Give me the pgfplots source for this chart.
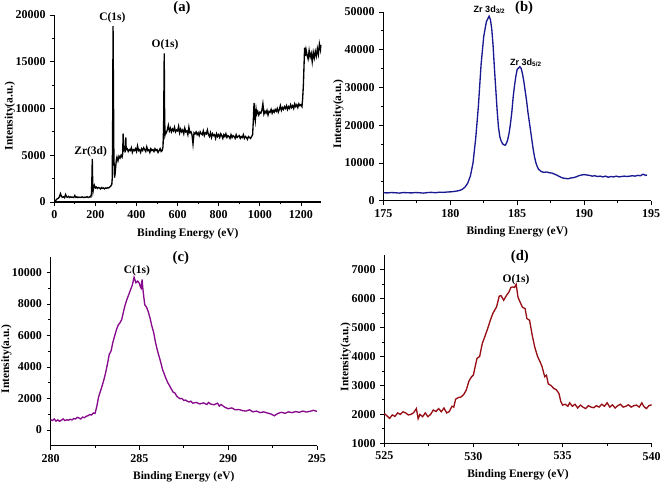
\documentclass[border=0pt]{standalone}
\usepackage{fontspec}
\setmainfont{Liberation Serif}
\newfontfamily\sansfont{Liberation Sans}
\usepackage{pgfplots}
\pgfplotsset{compat=1.18}
\definecolor{cnavy}{RGB}{25,25,145}
\definecolor{cpurple}{RGB}{135,10,140}
\definecolor{cdred}{RGB}{150,15,20}
\tikzset{
  ttl/.style={font=\bfseries\fontsize{11}{12}\selectfont},
  ann/.style={font=\bfseries\fontsize{8.6}{10}\selectfont, inner sep=1pt},
  zann/.style={font=\sansfont\bfseries\fontsize{6.8}{8}\selectfont, inner sep=1pt},
}
\pgfplotsset{
  panel/.style={
    scale only axis, anchor=south west,
    axis x line*=bottom, axis y line*=left,
    axis line style={-, line width=0.8pt},
    tick align=outside, minor tick num=1,
    major tick length=3pt, minor tick length=1.8pt,
    tick style={black, line width=0.6pt},
    scaled ticks=false,
    /pgf/number format/assume math mode=true,
    /pgf/number format/1000 sep={},
    xticklabel={\textbf{\pgfmathprintnumber{\tick}}},
    yticklabel={\textbf{\pgfmathprintnumber{\tick}}},
    tick label style={font=\bfseries\fontsize{9}{10}\selectfont},
    label style={font=\bfseries\fontsize{8.6}{10}\selectfont},
    xlabel style={at={(axis description cs:0.5,0)}, anchor=center, yshift=-23.5pt},
    ylabel style={at={(axis description cs:0,0.46)}, anchor=center},
    xlabel={Binding Energy (eV)},
    ylabel={Intensity(a.u.)},
    clip=false,
  },
}
\begin{document}
\begin{tikzpicture}
\useasboundingbox (0,0) rectangle (495.75pt,363pt);
% (a)
\begin{axis}[panel, at={(40.7pt,211.5pt)}, width=200.4pt, height=140.25pt,
  xmin=0, xmax=1300, ymin=0, ymax=20000,
  xtick={0,200,...,1200}, ytick={0,5000,...,20000},
  ylabel style={yshift=33.2pt}]
\addplot[black, line width=1pt] coordinates {
(0,0)(5,100)(10,250)(15,350)(20,400)(25,550)(30,900)(35,600)(40,500)(45,550)
(50,450)(55,800)(60,550)(65,500)(70,600)(75,480)(80,550)(85,500)(90,520)(95,480)
(100,700)(105,500)(110,550)(115,470)(120,520)(125,500)(130,480)(135,550)(140,500)(145,470)
(150,530)(155,500)(160,560)(165,480)(170,520)(175,600)(178,550)(181,900)(183,2500)(185,4600)(187,2000)
(189,1200)(192,1600)(195,1800)(200,1500)(205,1600)(210,1450)(215,1550)(220,1500)(225,1400)(230,1550)
(235,1450)(240,1500)(245,1400)(250,1500)(255,1450)(260,1550)(265,1500)(270,1600)(275,1700)(280,1900)(282,2500)
(284,8000)(286,18800)(288,12000)(290,5000)(293,2600)(296,3000)(299,3800)(302,4500)(305,4800)(310,4400)
(315,4900)(320,4700)(325,5000)(330,4800)(333,5200)(335,7300)(338,5600)(342,5800)(345,5300)(348,6900)
(350,5600)(355,5700)(360,5400)(365,5600)(370,5500)(375,5800)(380,5300)(385,5600)(390,5500)(395,5700)
(400,5400)(405,6000)(410,5500)(415,5600)(420,5300)(425,5700)(430,5500)(435,5800)(440,5600)(445,5400)
(450,5900)(455,5500)(460,5600)(465,5300)(470,5700)(475,5500)(480,5600)(485,5400)(490,5700)(495,5500)
(500,5600)(505,5300)(510,5500)(515,5700)(520,5400)(525,5500)(529,5900)(532,8000)(535,15900)(537,9000)
(539,7200)(542,7500)(545,7400)(550,7700)(555,8200)(560,7600)(565,7900)(570,7500)(575,7800)(580,7600)
(585,8000)(590,7500)(595,7700)(600,7600)(605,8100)(610,7400)(615,7800)(620,7500)(625,7700)(630,7300)
(635,7900)(640,7500)(645,7600)(650,7200)(655,8000)(660,7400)(665,7500)(670,7200)(675,6200)(680,7400)
(685,7300)(690,7500)(695,7200)(700,7400)(705,7100)(710,7500)(715,7300)(720,7200)(725,7600)(730,7100)
(735,7400)(740,7300)(745,7700)(750,7200)(755,7000)(760,7400)(765,6900)(770,7300)(775,7100)(780,7200)
(785,6800)(790,7300)(795,7000)(800,7200)(805,6900)(810,7300)(815,7100)(820,6800)(825,7200)(830,7000)
(835,7300)(840,6900)(845,7100)(850,7000)(855,6800)(860,7200)(865,6900)(870,7100)(875,7000)(880,6800)
(885,7200)(890,6900)(895,7000)(900,7100)(905,6800)(910,7000)(915,6900)(920,7200)(925,6800)(930,7000)
(935,6900)(940,6700)(945,7000)(950,6900)(955,6800)(960,7000)(965,7200)(968,8500)(972,10600)(975,9200)
(978,8700)(982,9900)(985,9400)(990,9700)(995,9300)(1000,9600)(1005,9500)(1010,9800)(1015,10500)(1020,9400)
(1025,9700)(1030,9500)(1035,9800)(1040,9300)(1045,9700)(1050,9600)(1055,9900)(1060,9500)(1065,9800)(1070,9600)
(1075,9900)(1080,9700)(1085,10000)(1090,9600)(1095,9900)(1100,10300)(1105,9800)(1110,10100)(1115,9900)(1120,10200)
(1125,10000)(1130,10300)(1135,9900)(1140,10200)(1145,10000)(1150,10400)(1155,10100)(1160,10300)(1165,10000)(1170,10500)
(1175,10200)(1180,10400)(1185,10100)(1190,10500)(1195,10300)(1200,10400)(1205,10200)(1208,10900)(1212,12500)(1215,14500)
(1218,16500)(1221,15600)(1225,16300)(1230,15700)(1235,15300)(1240,16200)(1245,15500)(1250,15900)(1255,15000)(1260,16000)
(1265,15400)(1270,16100)(1275,15600)(1280,16400)(1285,15800)(1290,16900)(1295,16300)(1297,16800)
};
\node[ttl] at (axis description cs:0.478,1.037) {(a)};
\node[ann, anchor=south] at (axis cs:283,18950) {C(1s)};
\node[ann, anchor=south] at (axis cs:539,16050) {O(1s)};
\node[ann, anchor=south] at (axis cs:177,4700) {Zr(3d)};
\end{axis}
% (b)
\begin{axis}[panel, at={(287.5pt,212.5pt)}, width=200.8pt, height=141.5pt,
  xmin=175, xmax=195, ymin=0, ymax=50000,
  xtick={175,180,...,195}, ytick={0,10000,...,50000},
  ylabel style={yshift=33.8pt}]
\addplot[cnavy, line width=1pt] coordinates {
(175.0,2100)(175.3,2050)(175.6,2150)(175.9,2100)(176.2,2000)(176.5,2150)(176.8,2100)(177.1,2050)(177.4,2150)(177.7,2100)
(178.0,2000)(178.3,2150)(178.6,2200)(178.9,2100)(179.2,2250)(179.5,2200)(179.8,2300)(180.1,2350)(180.4,2500)(180.7,2700)
(180.9,3000)(181.1,3600)(181.3,4600)(181.5,6500)(181.7,10000)(181.9,16500)(182.1,25000)(182.3,36000)(182.5,43500)(182.7,47500)
(182.9,48900)(183.0,48000)(183.1,45500)(183.2,41000)(183.3,35000)(183.4,29500)(183.5,24000)(183.6,19500)(183.7,17000)(183.8,15800)
(183.9,15100)(184.0,14800)(184.1,14700)(184.2,15200)(184.3,16300)(184.4,18000)(184.5,20500)(184.6,23500)(184.7,27500)(184.8,30500)
(184.9,33000)(185.0,34800)(185.2,35500)(185.3,35000)(185.4,33500)(185.5,31500)(185.6,29000)(185.7,26500)(185.8,23500)(185.9,21000)
(186.0,18500)(186.1,16000)(186.2,13500)(186.3,11500)(186.4,10000)(186.5,9000)(186.6,8300)(186.8,7700)(187.0,7500)(187.2,7600)
(187.4,7400)(187.6,7300)(187.8,7000)(188.0,6700)(188.2,6300)(188.4,6000)(188.6,5900)(188.8,5800)(189.0,6000)(189.2,6100)
(189.4,6300)(189.6,6600)(189.8,6800)(190.0,6900)(190.2,6800)(190.4,6700)(190.6,6500)(190.8,6600)(191.0,6400)(191.2,6500)
(191.4,6300)(191.6,6500)(191.8,6200)(192.0,6400)(192.2,6300)(192.4,6500)(192.6,6300)(192.8,6400)(193.0,6500)(193.2,6400)
(193.4,6500)(193.6,6600)(193.8,6500)(194.0,6700)(194.2,6600)(194.4,7000)(194.6,6700)(194.7,6800)
};
\node[ttl] at (axis description cs:0.526,1.021) {(b)};
\node[zann] at (axis cs:182.93,50530) {Zr 3d\textsubscript{3/2}};
\node[zann] at (axis cs:185.65,36490) {Zr 3d\textsubscript{5/2}};
\end{axis}
% (c)
\begin{axis}[panel, at={(38.0pt,28.7pt)}, width=199.7pt, height=141.75pt,
  xmin=280, xmax=295, ymin=-1000, ymax=11000,
  xtick={280,285,...,295}, ytick={0,2000,...,10000},
  ylabel style={yshift=33.3pt}]
\addplot[cpurple, line width=1pt] coordinates {
(280.0,650)(280.1,600)(280.2,700)(280.3,560)(280.4,640)(280.5,550)(280.6,620)(280.7,700)(280.8,600)(280.9,650)
(281.0,620)(281.1,680)(281.2,640)(281.3,720)(281.4,700)(281.5,800)(281.6,760)(281.7,700)(281.8,820)(281.9,780)
(282.0,870)(282.1,900)(282.2,980)(282.3,950)(282.4,1080)(282.5,1050)(282.6,1500)(282.7,2100)(282.8,2450)(282.9,2800)
(283.0,3200)(283.1,3650)(283.2,4200)(283.3,4800)(283.4,5000)(283.5,5550)(283.6,5950)(283.7,6350)(283.8,6650)(283.9,6800)
(284.0,7000)(284.1,7500)(284.2,7950)(284.3,8300)(284.4,8600)(284.5,8900)(284.6,9200)(284.7,9700)(284.8,9350)(284.9,9450)
(285.0,9300)(285.05,9100)(285.1,9000)(285.15,9550)(285.2,8900)(285.3,7950)(285.4,7800)(285.5,7500)(285.6,7100)(285.7,6600)
(285.8,6200)(285.9,5600)(286.0,5100)(286.1,4700)(286.2,4300)(286.3,3850)(286.4,3550)(286.5,3250)(286.6,3000)(286.7,2800)
(286.8,2600)(286.9,2400)(287.0,2350)(287.1,2150)(287.2,2050)(287.3,1980)(287.4,2000)(287.5,1880)(287.6,1900)(287.7,1820)
(287.8,1780)(287.9,1830)(288.0,1700)(288.2,1750)(288.4,1650)(288.6,1720)(288.8,1620)(288.9,1750)(289.0,1650)(289.2,1600)
(289.4,1700)(289.5,1520)(289.6,1620)(289.8,1450)(290.0,1350)(290.2,1400)(290.4,1280)(290.6,1300)(290.8,1230)(291.0,1200)
(291.2,1280)(291.4,1150)(291.6,1200)(291.8,1100)(292.0,1150)(292.2,1080)(292.4,1020)(292.6,900)(292.8,1050)(293.0,1120)
(293.2,1060)(293.4,1150)(293.6,1100)(293.8,1170)(294.0,1120)(294.2,1200)(294.4,1140)(294.6,1180)(294.8,1250)(295.0,1180)
};
\node[ttl] at (axis description cs:0.489,0.996) {(c)};
\node[ann, anchor=south] at (axis cs:284.86,9650) {C(1s)};
\end{axis}
% (d)
\begin{axis}[panel, at={(288.2pt,30.5pt)}, width=200.55pt, height=141.2pt,
  xmin=525, xmax=540, ymin=1000, ymax=7500,
  xtick={525,530,...,540}, ytick={1000,2000,...,7000},
  ylabel style={yshift=28.9pt}]
\addplot[cdred, line width=1pt] coordinates {
(525.0,2030)(525.15,1950)(525.3,1860)(525.45,1980)(525.6,1930)(525.75,2050)(525.9,2000)(526.05,2090)(526.2,2050)(526.35,1980)
(526.5,2000)(526.65,2060)(526.8,2200)(526.9,1850)(527.0,2000)(527.15,1920)(527.3,2050)(527.45,1920)(527.6,2000)(527.75,2150)
(527.9,2100)(528.05,2200)(528.2,2090)(528.35,2220)(528.5,2050)(528.65,2100)(528.8,2280)(528.9,2250)(529.0,2520)(529.15,2580)
(529.3,2600)(529.45,2680)(529.6,2840)(529.75,3150)(529.9,3300)(530.0,3360)(530.1,3650)(530.2,3930)(530.35,4000)(530.5,4450)
(530.65,4700)(530.8,4960)(530.95,5250)(531.1,5500)(531.3,5710)(531.45,6080)(531.55,6100)(531.7,5940)(531.85,6100)(532.0,6230)
(532.1,6380)(532.2,6400)(532.3,6380)(532.4,6490)(532.5,6050)(532.6,5900)(532.75,5700)(532.9,5650)(533.0,5310)(533.15,5250)
(533.3,4730)(533.45,4300)(533.6,4000)(533.75,3800)(533.85,3650)(534.0,3300)(534.1,3350)(534.2,3050)(534.35,3000)(534.5,2900)
(534.65,2850)(534.8,2720)(534.9,2450)(535.0,2320)(535.15,2350)(535.3,2280)(535.4,2400)(535.55,2280)(535.7,2350)(535.85,2220)
(536.0,2320)(536.15,2250)(536.3,2200)(536.45,2300)(536.6,2250)(536.75,2230)(536.9,2300)(537.05,2250)(537.2,2350)(537.35,2280)
(537.5,2400)(537.65,2250)(537.8,2330)(537.95,2220)(538.1,2300)(538.25,2350)(538.4,2250)(538.55,2280)(538.7,2330)(538.85,2250)
(539.0,2300)(539.15,2320)(539.3,2250)(539.45,2400)(539.55,2280)(539.7,2200)(539.85,2300)(540.0,2330)
};
\node[ttl] at (axis description cs:0.507,0.989) {(d)};
\node[ann, anchor=south] at (axis cs:532.39,6420) {O(1s)};
\end{axis}
\end{tikzpicture}
\end{document}
